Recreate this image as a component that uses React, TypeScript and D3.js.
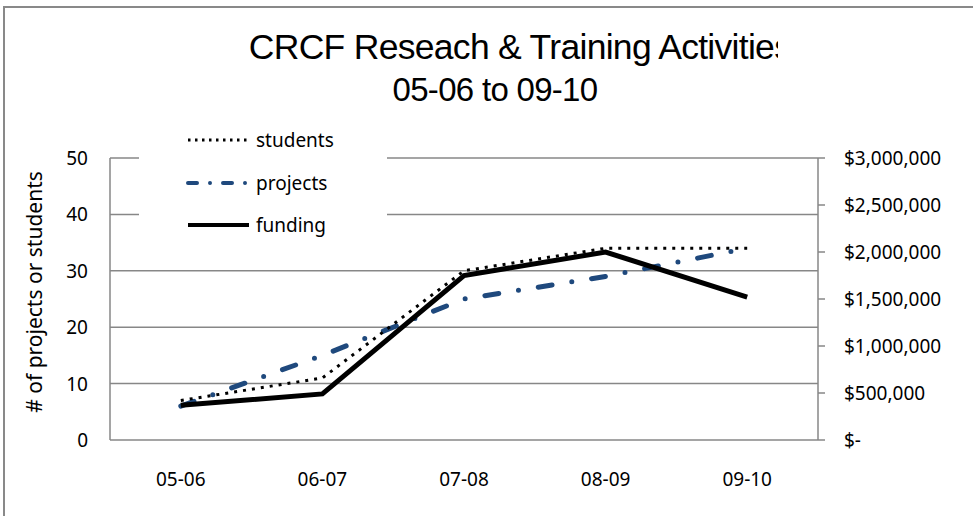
import React from 'react'
import * as d3 from 'd3'

const years = ['05-06', '06-07', '07-08', '08-09', '09-10']
const students = [7, 11, 30, 34, 34]
const projects = [6, 15, 25, 29, 34]
const funding = [370000, 490000, 1750000, 2000000, 1520000]
const leftTicks = [0, 10, 20, 30, 40, 50]
const rightTicks = [0, 500000, 1000000, 1500000, 2000000, 2500000, 3000000]

const W = 973
const H = 516
const left = 110
const right = 818
const top = 158
const bottom = 440

const titleFont = '"Liberation Sans", Arial, sans-serif'
const font = '"Noto Sans", "Open Sans", sans-serif'
const grid = '#878787'

function money(v: number) {
  if (v === 0) return '$-'
  return '$' + d3.format(',')(v)
}

export default function App() {
  const x = d3.scaleBand().domain(years).range([left, right])
  const yL = d3.scaleLinear().domain([0, 50]).range([bottom, top])
  const yR = d3.scaleLinear().domain([0, 3000000]).range([bottom, top])
  const cx = (d: string) => (x(d) as number) + x.bandwidth() / 2

  const lineL = d3.line<number>().x((d, i) => cx(years[i])).y(d => yL(d))
  const lineR = d3.line<number>().x((d, i) => cx(years[i])).y(d => yR(d))

  const legend = [
    { name: 'students', y: 140, stroke: '#000', width: 3, dash: '2.5 4.5', cap: 'butt' },
    { name: 'projects', y: 183, stroke: '#1f497d', width: 4, dash: '9 13 0 13', cap: 'round' },
    { name: 'funding', y: 225, stroke: '#000', width: 4, dash: '', cap: 'butt' },
  ]

  return (
    <svg width={W} height={H} style={{ position: 'absolute', left: 0, top: 0, background: '#fff' }}>
      <defs>
        <clipPath id="titleClip">
          <rect x={0} y={0} width={778} height={H} />
        </clipPath>
      </defs>
      {/* outer chart border */}
      <rect x={4} y={7} width={W + 20} height={H + 20} fill="#fff" stroke="#898989" strokeWidth={2} />

      <g clipPath="url(#titleClip)" fontFamily={titleFont} fill="#000" textAnchor="middle" letterSpacing={-0.7}>
        <text x={520} y={59} fontSize={35.5}>CRCF Reseach &amp; Training Activities</text>
        <text x={495} y={101} fontSize={33}>05-06 to 09-10</text>
      </g>

      {/* gridlines */}
      {leftTicks.map(t => (
        <line key={t} x1={left} x2={right} y1={yL(t)} y2={yL(t)} stroke={grid} strokeWidth={1.5} />
      ))}
      <line x1={left} x2={left} y1={top} y2={bottom} stroke={grid} strokeWidth={1.5} />
      <line x1={right} x2={right} y1={top} y2={bottom} stroke={grid} strokeWidth={1.5} />
      {rightTicks.map(t => (
        <line key={t} x1={right} x2={right + 7} y1={yR(t)} y2={yR(t)} stroke={grid} strokeWidth={1.5} />
      ))}

      {/* axis labels */}
      <g fontFamily={font} fontSize={19} fill="#000" textAnchor="end">
        {leftTicks.map(t => (
          <text key={t} x={88} y={yL(t) + 7}>{t}</text>
        ))}
      </g>
      <g fontFamily={font} fontSize={19} fill="#000">
        {rightTicks.map(t => (
          <text key={t} x={844} y={yR(t) + 7}>{money(t)}</text>
        ))}
      </g>
      <g fontFamily={font} fontSize={19} fill="#000" textAnchor="middle">
        {years.map(d => (
          <text key={d} x={cx(d)} y={486}>{d}</text>
        ))}
      </g>
      <text
        transform="translate(42,292) rotate(-90)"
        fontFamily={font}
        fontSize={21}
        textAnchor="middle"
        fill="#000"
      >
        # of projects or students
      </text>

      {/* legend */}
      <rect x={139} y={122} width={248} height={120} fill="#fff" />
      {legend.map(l => (
        <g key={l.name}>
          <line
            x1={188}
            x2={249}
            y1={l.y}
            y2={l.y}
            stroke={l.stroke}
            strokeWidth={l.width}
            strokeDasharray={l.dash}
            strokeLinecap={l.cap as any}
          />
          <text x={256} y={l.y + 7} fontFamily={font} fontSize={19} fill="#000">{l.name}</text>
        </g>
      ))}

      {/* series */}
      <path d={lineL(projects) || ''} fill="none" stroke="#1f497d" strokeWidth={5} strokeDasharray="14 20 0 20" strokeLinecap="round" />
      <path d={lineL(students) || ''} fill="none" stroke="#000" strokeWidth={3} strokeDasharray="3 6" />
      <path d={lineR(funding) || ''} fill="none" stroke="#000" strokeWidth={5} strokeLinejoin="miter" />
    </svg>
  )
}
